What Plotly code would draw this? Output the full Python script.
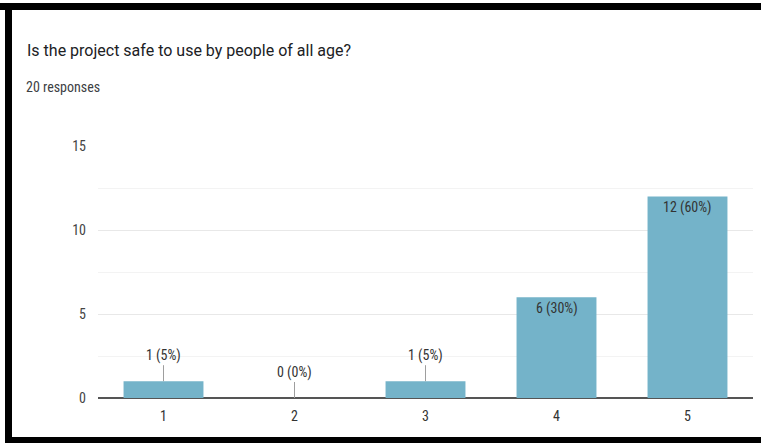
import plotly.graph_objects as go

categories = ["1", "2", "3", "4", "5"]
counts = [1, 0, 1, 6, 12]
percents = ["5%", "0%", "5%", "30%", "60%"]
ytick_vals = [0, 5, 10, 15]
title_text = "Is the project safe to use by people of all age?"
subtitle_text = "20 responses"

W, H = 761, 443
L, R, T, B = 98, 8, 146, 45
PW, PH = W - L - R, H - T - B

def px_x(p):
    return (p - L) / PW

def px_y(p):
    return (H - B - p) / PH

FONT = "Liberation Sans Narrow, Roboto Condensed, Roboto, Arial, sans-serif"

fig = go.Figure(go.Bar(
    x=categories, y=counts, marker_color="#74b3c9",
    marker_line_width=0, width=0.61, hoverinfo="skip",
))

annotations = []
for i, (c, v, p) in enumerate(zip(categories, counts, percents)):
    label = f"{v} ({p})"
    if v >= 3:
        annotations.append(dict(x=i, y=v, xref="x", yref="y", text=label,
                                showarrow=False, yanchor="top", yshift=-1,
                                font=dict(family=FONT, size=14, color="#333333")))
    else:
        annotations.append(dict(x=i, y=v, xref="x", yref="y", text=label,
                                showarrow=True, arrowhead=0, arrowwidth=1,
                                arrowcolor="#9e9e9e", ax=0, ay=-26,
                                font=dict(family=FONT, size=14, color="#333333")))

annotations.append(dict(x=px_x(25), y=px_y(50), xref="paper", yref="paper",
                        xanchor="left", yanchor="middle", showarrow=False,
                        text=title_text,
                        font=dict(family="Roboto, Arial, sans-serif", size=16, color="#202124")))
annotations.append(dict(x=px_x(24), y=px_y(87), xref="paper", yref="paper",
                        xanchor="left", yanchor="middle", showarrow=False,
                        text=subtitle_text,
                        font=dict(family=FONT, size=14, color="#3c4043")))

shapes = [
    dict(type="rect", xref="paper", yref="paper", x0=px_x(0), x1=px_x(W),
         y0=px_y(10), y1=px_y(3), fillcolor="black", line_width=0, layer="above"),
    dict(type="rect", xref="paper", yref="paper", x0=px_x(5), x1=px_x(12),
         y0=px_y(443), y1=px_y(3), fillcolor="black", line_width=0, layer="above"),
    dict(type="rect", xref="paper", yref="paper", x0=px_x(5), x1=px_x(W),
         y0=px_y(443), y1=px_y(437), fillcolor="black", line_width=0, layer="above"),
]

fig.update_layout(
    width=W, height=H, margin=dict(l=L, r=R, t=T, b=B),
    paper_bgcolor="white", plot_bgcolor="white", showlegend=False,
    annotations=annotations, shapes=shapes,
    xaxis=dict(type="category", showgrid=False, showline=False, zeroline=False,
               ticks="", ticklabelstandoff=8,
               tickfont=dict(family=FONT, size=14, color="#333333")),
    yaxis=dict(range=[0, 15], tickvals=ytick_vals, showgrid=True,
               gridcolor="#e8e8e8", gridwidth=1, zeroline=True,
               zerolinecolor="#555555", zerolinewidth=2, showline=False,
               ticks="", ticklabelstandoff=11,
               tickfont=dict(family=FONT, size=14, color="#444444"),
               minor=dict(tickvals=[2.5, 7.5, 12.5], showgrid=True,
                          gridcolor="#f3f3f3", gridwidth=1)),
)

fig.write_html("out.html")
